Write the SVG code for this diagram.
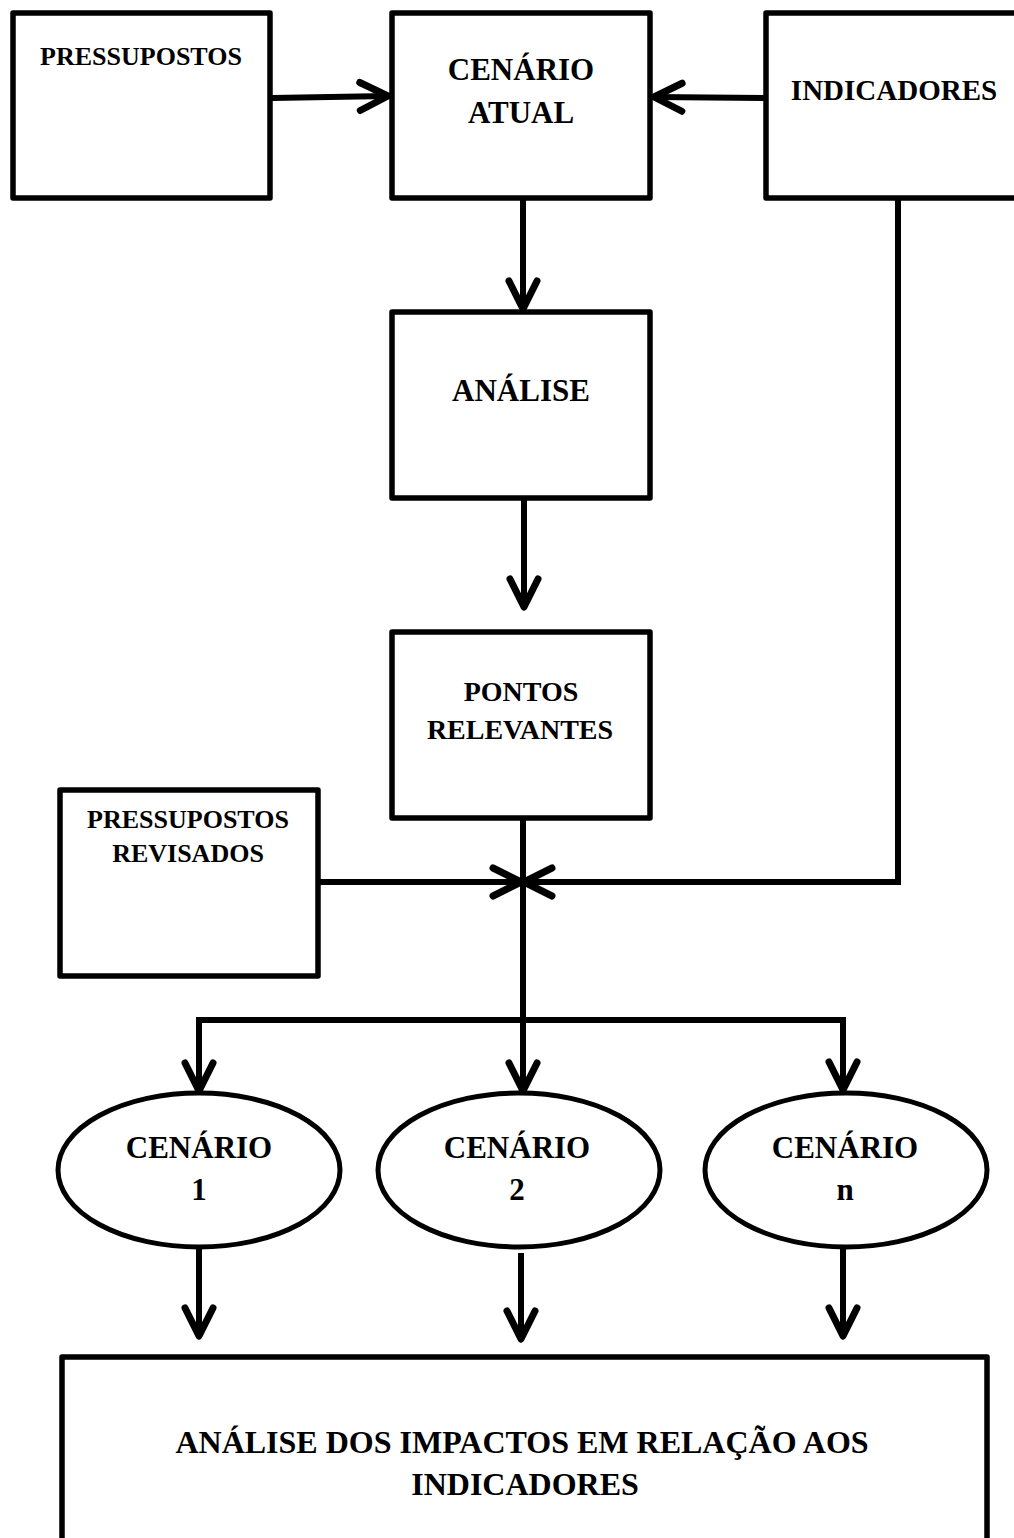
<svg xmlns="http://www.w3.org/2000/svg" width="1014" height="1538" viewBox="0 0 1014 1538">
<style>
.box{fill:#fff;stroke:#000;stroke-width:5.5;stroke-linejoin:round}
.ell{fill:#fff;stroke:#000;stroke-width:5}
.ln{fill:none;stroke:#000;stroke-width:6;stroke-linejoin:miter}
.t{font-family:'Liberation Serif','Times New Roman',Times,serif;font-weight:700;fill:#000;text-anchor:middle}
</style>
<defs>
<marker id="chev" markerUnits="userSpaceOnUse" viewBox="-34 -20 40 40" markerWidth="40" markerHeight="40" refX="0" refY="0" orient="auto">
<path d="M-28,-14 L0,0 L-28,14" fill="none" stroke="#000" stroke-width="7" stroke-linecap="round" stroke-linejoin="round"/>
</marker>
</defs>
<rect width="1014" height="1538" fill="#fff"/>
<g id="connectors">
<line class="ln" x1="272" y1="98" x2="388" y2="96" marker-end="url(#chev)"/>
<line class="ln" x1="765" y1="98" x2="654" y2="97" marker-end="url(#chev)"/>
<line class="ln" x1="523" y1="198" x2="523" y2="309" marker-end="url(#chev)"/>
<line class="ln" x1="524" y1="498" x2="524" y2="607" marker-end="url(#chev)"/>
<polyline class="ln" points="898,198 898,882 524,882" marker-end="url(#chev)"/>
<line class="ln" x1="318" y1="882" x2="521" y2="882" marker-end="url(#chev)"/>
<line class="ln" x1="523" y1="818" x2="523" y2="1020"/>
<polyline class="ln" points="199,1090 199,1020 843,1020 843,1089"/>
<line class="ln" x1="199" y1="1060" x2="199" y2="1091" marker-end="url(#chev)"/>
<line class="ln" x1="843" y1="1060" x2="843" y2="1090" marker-end="url(#chev)"/>
<line class="ln" x1="523" y1="1020" x2="523" y2="1091" marker-end="url(#chev)"/>
<line class="ln" x1="199" y1="1248" x2="199" y2="1336" marker-end="url(#chev)"/>
<line class="ln" x1="521" y1="1253" x2="521" y2="1339" marker-end="url(#chev)"/>
<line class="ln" x1="843" y1="1248" x2="843" y2="1336" marker-end="url(#chev)"/>
</g>
<g id="pressupostos">
<rect class="box" x="13" y="13" width="257" height="185"/>
<text class="t" x="141" y="65" font-size="26">PRESSUPOSTOS</text>
</g>
<g id="cenario-atual">
<rect class="box" x="392" y="13" width="258" height="185"/>
<text class="t" x="521" y="80" font-size="31">CENÁRIO</text>
<text class="t" x="521" y="123" font-size="31">ATUAL</text>
</g>
<g id="indicadores">
<rect class="box" x="766" y="13" width="260" height="185"/>
<text class="t" x="894" y="100" font-size="29">INDICADORES</text>
</g>
<g id="analise">
<rect class="box" x="392" y="312" width="258" height="186"/>
<text class="t" x="521" y="401" font-size="31">ANÁLISE</text>
</g>
<g id="pontos-relevantes">
<rect class="box" x="392" y="632" width="258" height="186"/>
<text class="t" x="521" y="701" font-size="28">PONTOS</text>
<text class="t" x="520" y="739" font-size="28">RELEVANTES</text>
</g>
<g id="pressupostos-revisados">
<rect class="box" x="60" y="790" width="258" height="186"/>
<text class="t" x="188" y="828" font-size="26">PRESSUPOSTOS</text>
<text class="t" x="188" y="862" font-size="26">REVISADOS</text>
</g>
<g id="cenario-1">
<ellipse class="ell" cx="199" cy="1170" rx="141" ry="77"/>
<text class="t" x="199" y="1158" font-size="31">CENÁRIO</text>
<text class="t" x="199" y="1200" font-size="31">1</text>
</g>
<g id="cenario-2">
<ellipse class="ell" cx="519" cy="1170" rx="141" ry="77"/>
<text class="t" x="517" y="1158" font-size="31">CENÁRIO</text>
<text class="t" x="517" y="1200" font-size="31">2</text>
</g>
<g id="cenario-n">
<ellipse class="ell" cx="846" cy="1170" rx="141" ry="77"/>
<text class="t" x="845" y="1158" font-size="31">CENÁRIO</text>
<text class="t" x="845" y="1200" font-size="31">n</text>
</g>
<g id="analise-impactos">
<rect class="box" x="62" y="1357" width="925" height="200"/>
<text class="t" x="522" y="1453" font-size="32">ANÁLISE DOS IMPACTOS EM RELAÇÃO AOS</text>
<text class="t" x="525" y="1495" font-size="32">INDICADORES</text>
</g>
</svg>
